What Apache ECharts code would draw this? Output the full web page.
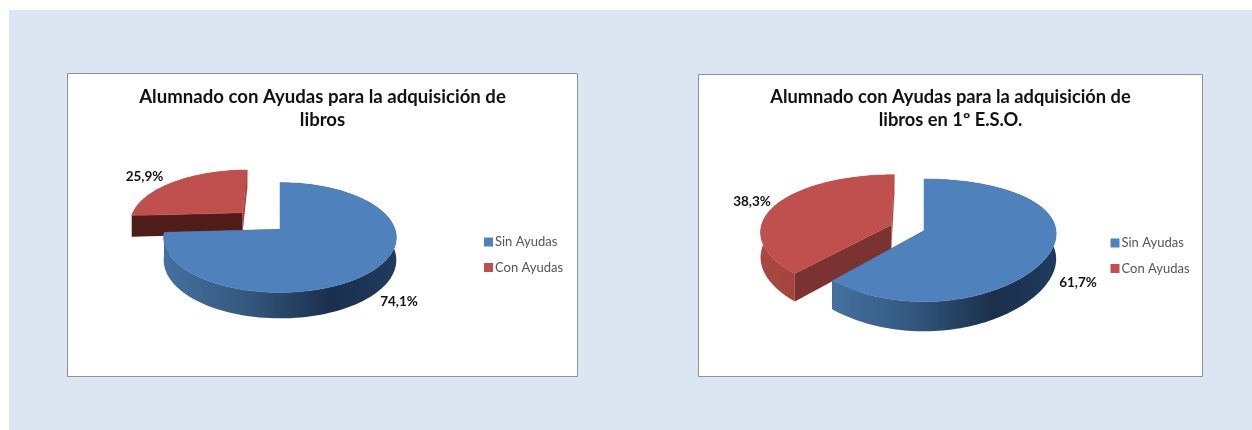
<!DOCTYPE html>
<html>
<head>
<meta charset="utf-8">
<style>
  html, body { margin: 0; padding: 0; background: #fff; }
  #main { width: 1252px; height: 430px; }
</style>
<script src="https://cdn.jsdelivr.net/npm/echarts@6/dist/echarts.min.js"></script>
</head>
<body>
<div id="main"></div>
<script>
const categories = ["Sin Ayudas", "Con Ayudas"];
const valuesTotal = [74.1, 25.9];
const valuesEso = [61.7, 38.3];
const titleTotal = "Alumnado con Ayudas para la adquisición de\nlibros";
const titleEso = "Alumnado con Ayudas para la adquisición de\nlibros en 1º E.S.O.";

const fontName = "Lato";
const topColors = ["#4f81bd", "#c0504d"];

// perspective disc: cx,cy = projected centre, r/h = radii, k/kx = perspective, depth = wall height
// r, kx and explode are per slice
const pieTotal = {
  cx: 280, cy: 229.3, r: [115, 115], h: 53.7, k: 0.15, kx: [0.15, 0.15], depth: 22,
  explode: [0, 0.47],
  labels: [[399, 301.5], [144.5, 177]],
  startWall: ["#2d4f78", "#4f1c17"],
  endWall: ["#1f3a5c", "#a5423e"]
};
const pieEso = {
  cx: 924, cy: 230.7, r: [132, 131], h: 59.8, k: 0.157, kx: [0.05, 0.1], depth: 25,
  explode: [0, 0.27],
  labels: [[1078, 283], [752, 202]],
  startWall: ["#2d4f78", "#7a3331"],
  endWall: ["#1f3a5c", "#a8483f"]
};

function project(p, idx, u, v, down) {
  const w = 1 - p.k * v;
  const wx = 1 - p.kx[idx] * v;
  return [p.cx + p.r[idx] * u / wx, p.cy + (p.h * v + (down ? p.depth : 0)) / w];
}

function wallGradient(idx) {
  if (idx === 0) {
    return new echarts.graphic.LinearGradient(0, 0, 1, 0, [
      { offset: 0, color: "#44719f" },
      { offset: 0.35, color: "#34597f" },
      { offset: 0.72, color: "#1a2f4c" },
      { offset: 1, color: "#1f3b5c" }
    ]);
  }
  return new echarts.graphic.LinearGradient(0, 0, 1, 0, [
    { offset: 0, color: "#a8483f" },
    { offset: 1, color: "#9a3f3a" }
  ]);
}

function slice(p, values, idx) {
  return function (params, api) {
    const total = values.reduce((a, b) => a + b, 0);
    let before = 0;
    for (let i = 0; i < idx; i++) before += values[i];
    const a0 = before / total * Math.PI * 2;
    const a1 = a0 + api.value(0) / total * Math.PI * 2;
    const mid = (a0 + a1) / 2;
    const ox = Math.sin(mid) * p.explode[idx];
    const oy = -Math.cos(mid) * p.explode[idx];

    const rimTop = [];
    const rimDown = [];
    const steps = 120;
    for (let i = 0; i <= steps; i++) {
      const a = a0 + (a1 - a0) * i / steps;
      const u = Math.sin(a) + ox;
      const v = -Math.cos(a) + oy;
      rimTop.push(project(p, idx, u, v, false));
      rimDown.push(project(p, idx, u, v, true));
    }
    const apexTop = project(p, idx, ox, oy, false);
    const apexDown = project(p, idx, ox, oy, true);

    const outerWall = {
      type: "polygon",
      shape: { points: rimTop.concat(rimDown.slice().reverse()) },
      style: { fill: wallGradient(idx) }
    };
    const cutWalls = [
      {
        type: "polygon",
        shape: { points: [apexTop, rimTop[steps], rimDown[steps], apexDown] },
        style: { fill: p.endWall[idx] }
      },
      {
        type: "polygon",
        shape: { points: [apexTop, rimTop[0], rimDown[0], apexDown] },
        style: { fill: p.startWall[idx] }
      }
    ];
    // blue: its cuts sit behind the rim. red: the rim sits behind its cuts
    const children = idx === 0 ? cutWalls.concat(outerWall) : [outerWall].concat(cutWalls);
    children.push({
      type: "polygon",
      shape: { points: [apexTop].concat(rimTop) },
      style: { fill: topColors[idx], stroke: topColors[idx], lineWidth: 0.5 }
    });
    children.push({
      type: "text",
      style: {
        x: p.labels[idx][0],
        y: p.labels[idx][1],
        text: api.value(0).toFixed(1).replace(".", ",") + "%",
        fill: "#111",
        font: "bold 13.5px " + fontName,
        align: "center",
        verticalAlign: "middle"
      }
    });
    return { type: "group", children: children };
  };
}

function sliceSeries(p, values, idx) {
  return {
    type: "custom",
    name: categories[idx],
    coordinateSystem: "none",
    silent: true,
    itemStyle: { color: topColors[idx] },
    data: [values[idx]],
    renderItem: slice(p, values, idx)
  };
}

function card(x, y, w, h) {
  return {
    type: "rect",
    shape: { x: x, y: y, width: w, height: h },
    style: { fill: "#fff", stroke: "#8e9194", lineWidth: 1 }
  };
}

function legend(left, top) {
  return {
    data: categories,
    orient: "vertical",
    left: left,
    top: top,
    padding: 0,
    icon: "rect",
    itemWidth: 9,
    itemHeight: 9,
    itemGap: 12.5,
    selectedMode: false,
    textStyle: { fontFamily: fontName, fontSize: 13, color: "#555", padding: [0, 0, 0, -3] }
  };
}

function title(x, y, text, size) {
  return {
    text: text,
    left: x,
    top: y,
    padding: 0,
    textAlign: "center",
    textStyle: { fontFamily: fontName, fontWeight: "bold", fontSize: size, lineHeight: 23, color: "#111" }
  };
}

const myChart = echarts.init(document.getElementById("main"));
myChart.setOption({
  animation: false,
  backgroundColor: "#fff",
  graphic: [
    { type: "rect", shape: { x: 9, y: 10, width: 1243, height: 420 }, style: { fill: "#dce6f2" } },
    card(67.5, 73.5, 510, 303),
    card(698.5, 74.5, 504, 302)
  ],
  title: [title(322.5, 85, titleTotal, 18.6), title(950.5, 86, titleEso, 18.3)],
  legend: [legend(484, 235.5), legend(1110.5, 236.5)],
  series: [
    sliceSeries(pieTotal, valuesTotal, 1),
    sliceSeries(pieTotal, valuesTotal, 0),
    sliceSeries(pieEso, valuesEso, 1),
    sliceSeries(pieEso, valuesEso, 0)
  ]
});
</script>
</body>
</html>
